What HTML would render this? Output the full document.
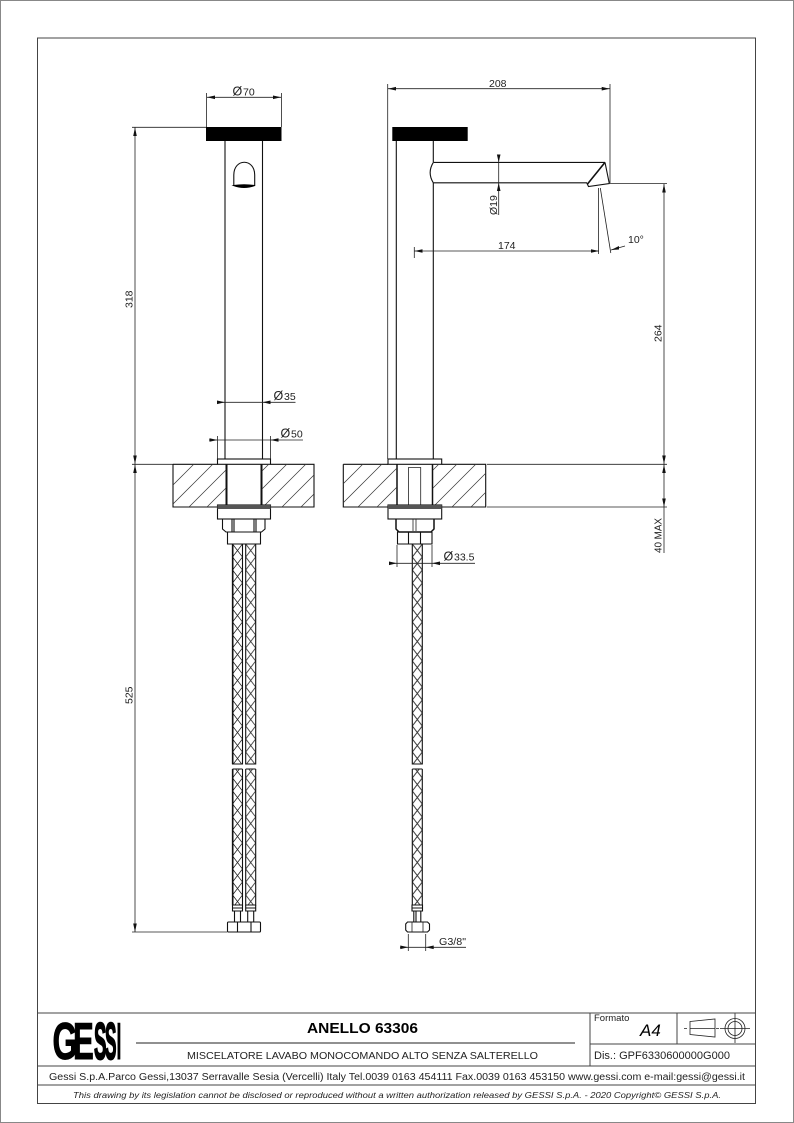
<!DOCTYPE html>
<html><head><meta charset="utf-8"><style>
html,body{margin:0;padding:0;background:#fff}
svg{display:block}
text{font-family:"Liberation Sans",sans-serif;fill:#222}
.l{fill:none;stroke:#222;stroke-width:.8}
.t{fill:none;stroke:#111;stroke-width:1.1}
.b{fill:none;stroke:#111;stroke-width:1.6}
.h{fill:none;stroke:#333;stroke-width:.7}
.a{fill:#111;stroke:none}
.d{font-size:10.5px}
.o{font-size:12.5px}
.g{font-size:52px;font-weight:700;stroke:#000;style:fill:#000}
</style></head><body>
<svg width="794" height="1123" viewBox="0 0 794 1123" xmlns="http://www.w3.org/2000/svg">
<defs>
<clipPath id="c1"><path d="M173 464H226V507H173ZM262 464H314V507H262Z"/></clipPath>
<clipPath id="c2"><path d="M343 464H397V507H343ZM433 464H486V507H433Z"/></clipPath>
<pattern id="p1" patternUnits="userSpaceOnUse" x="232.5" y="544" width="10" height="26"><path d="M0 0L10 13L0 26M10 0L0 13L10 26" fill="none" stroke="#222" stroke-width=".8"/></pattern>
<pattern id="p2" patternUnits="userSpaceOnUse" x="245.7" y="544" width="10" height="26"><path d="M0 0L10 13L0 26M10 0L0 13L10 26" fill="none" stroke="#222" stroke-width=".8"/></pattern>
<pattern id="p3" patternUnits="userSpaceOnUse" x="412.3" y="544" width="10" height="26"><path d="M0 0L10 13L0 26M10 0L0 13L10 26" fill="none" stroke="#222" stroke-width=".9"/></pattern>
</defs>
<rect x=".5" y=".5" width="793" height="1122" fill="none" stroke="#888" stroke-width="1"/>
<rect x="37.5" y="38" width="718" height="1065.5" fill="none" stroke="#444" stroke-width="1"/>

<!-- LEFT VIEW -->
<rect x="206" y="127" width="75.5" height="14" fill="#000"/>
<path class="t" d="M225 141V459M262.5 141V459"/>
<path class="t" d="M233.8 186V175C233.8 158 254.7 158 254.7 175V186"/>
<path d="M233.5 185.5Q244 189.5 254.8 185.5Q244 184 233.5 185.5Z" fill="#000" stroke="#000"/>
<path class="l" d="M206.5 93V127M281.5 93V127M207 97.3H281M132 127.3H206M132 464.3H173M132 932H227M135 127V932"/>
<path class="a" d="M207 97.3L215 95.5V99.1ZM281 97.3L273 95.5V99.1ZM135 127.5L133.2 136H136.8ZM135 464L133.2 455.5H136.8ZM135 464.6L133.2 473H136.8ZM135 932L133.2 923.5H136.8Z"/>
<text class="o" x="232.5" y="95.5">Ø</text><text class="d" x="243" y="95.5">70</text>
<text class="d" transform="translate(132.5 308) rotate(-90)">318</text>
<text class="d" transform="translate(132.5 704) rotate(-90)">525</text>
<path class="l" d="M217 402.3H295.5M209 440H303M217.5 436V459M270.5 436V459"/>
<path class="a" d="M225 402.3L217 400.5V404.1ZM262.5 402.3L270.5 400.5V404.1ZM217.5 440L209.5 438.2V441.8ZM270.5 440L278.5 438.2V441.8Z"/>
<text class="o" x="273.5" y="400">Ø</text><text class="d" x="284" y="400">35</text>
<text class="o" x="280.5" y="437.5">Ø</text><text class="d" x="291" y="437.5">50</text>
<rect x="217.5" y="459" width="53" height="5.3" class="t"/>
<path class="t" d="M173 464.3H217.5M270.5 464.3H314V507H173V464.3M226.7 464V505M261.3 464V505"/>
<path d="M226.5 464V505M261.5 464V505" stroke="#111" stroke-width="2" fill="none"/>
<g clip-path="url(#c1)" class="h"><path d="M658 0L0 658M677 0L0 677M696 0L0 696M714 0L0 714M733 0L0 733M751 0L0 751M770 0L0 770M789 0L0 789M808 0L0 808"/></g>
<rect x="217.5" y="505" width="53" height="14" class="t" fill="#fff"/>
<rect x="217.5" y="505" width="53" height="4" fill="#555"/>
<path class="t" d="M222.5 519V529L226 532H261.5L265 529V519M232 519V532M234 519V532M254 519V532M256 519V532M227.5 532V544H260.5V532Z"/>
<rect x="232.5" y="544" width="10" height="220" fill="url(#p1)"/><rect x="232.5" y="769" width="10" height="136" fill="url(#p1)"/>
<rect x="245.7" y="544" width="10" height="220" fill="url(#p2)"/><rect x="245.7" y="769" width="10" height="136" fill="url(#p2)"/>
<path class="t" d="M232.5 544V764H242.5V544M232.5 769V905H242.5V769M245.7 544V764H255.7V544M245.7 769V905H255.7V769M232.5 769H242.5M245.7 769H255.7"/>
<path d="M232.7 544V764M232.7 769V905" stroke="#111" stroke-width="1.6" fill="none"/>
<path class="t" d="M232.5 905V911H242.5V905M245.7 905V911H255.7V905M232.5 908H242.5M245.7 908H255.7M234.5 911V922M240.5 911V922M247.7 911V922M253.7 911V922"/>
<rect x="227.5" y="922" width="33" height="10" rx="1" class="t" fill="#fff"/>
<path class="t" d="M237.5 922V932M251 922V932"/>

<!-- RIGHT VIEW -->
<rect x="392.3" y="127" width="75.4" height="14" fill="#000"/>
<path class="t" d="M396.3 141V459M433.3 141V162M433.3 183V459"/>
<path class="t" d="M433.3 162.4H605M433.3 182.8H587M433.3 162.4Q427 172.6 433.3 182.8"/>
<path class="b" d="M605 162.4L587.5 184"/>
<path class="t" d="M605 162.4L609.3 183.5L588.5 186.5L586.8 183"/>
<path class="l" d="M387.7 84V459M610 84V183M388 88.7H609.7M609 183.6H667M664 183.6V553M414.3 247V258M414.5 251H599M598.5 188V254M600.3 188L610.8 253M611 250L625 246M498.7 155V215M487 464.3H667M487 507H667"/>
<path class="a" d="M388 88.7L396 86.9V90.5ZM609.7 88.7L601.7 86.9V90.5ZM664 184L662.2 192.5H665.8ZM664 464L662.2 455.5H665.8ZM664 464.6L662.2 473H665.8ZM664 507L662.2 498.5H665.8ZM414.5 251L422.5 249.2V252.8ZM599 251L591 249.2V252.8ZM498.7 162.4L496.9 154.5H500.5ZM498.7 182.8L496.9 191H500.5ZM611 250L619 246V249.5Z"/>
<text class="d" x="489" y="87">208</text>
<text class="d" x="498" y="249">174</text>
<text class="d" x="628" y="243">10°</text>
<text class="d" transform="translate(497 215) rotate(-90)">Ø19</text>
<text class="d" transform="translate(661.5 342) rotate(-90)">264</text>
<text class="d" transform="translate(661.5 553) rotate(-90)" textLength="35" lengthAdjust="spacingAndGlyphs">40 MAX</text>

<rect x="388" y="459" width="53.7" height="5.3" class="t"/>
<path class="t" d="M343.3 464.3H388M441.7 464.3H485.7V507H343.3V464.3"/>
<path d="M397 464V505M432.5 464V505" stroke="#111" stroke-width="1.5" fill="none"/>
<g clip-path="url(#c2)" class="h"><path d="M827 0L0 827M846 0L0 846M865 0L0 865M884 0L0 884M903 0L0 903M921 0L0 921M940 0L0 940M959 0L0 959M978 0L0 978"/></g>
<path class="l" d="M408.5 505V467.5H420.7V505"/>
<rect x="388" y="505" width="53.7" height="14" class="t" fill="#fff"/>
<rect x="388" y="505" width="53.7" height="4" fill="#555"/>
<path d="M396 519V529L399 532H431L434 529V519" fill="none" stroke="#111" stroke-width="1.5"/>
<path class="l" d="M413 519V531M416 519V531"/>
<path class="t" d="M397.5 532V544H432V532M408.5 532V544M420.5 532V544M397 532H432"/>
<rect x="412.3" y="544" width="10" height="220" fill="url(#p3)"/><rect x="412.3" y="769" width="10" height="136" fill="url(#p3)"/>
<path class="t" d="M412.3 544V764H422.3V544M412.3 769V905H422.3V769M412.3 769H422.3"/>
<path class="t" d="M412 905V911H422.5V905ZM412 908H422.5M413.8 911V922M420.8 911V922M416 911V922"/>
<path class="t" d="M407.5 922H427.5L429.5 924V930L427.5 932H407.5L405.7 930V924Z" fill="#fff"/>
<path class="l" d="M412 922V932M423 922V932"/>
<path class="l" d="M397 545V567M432 545V567M389 563.3H475M408.3 934V951M425.7 934V951M400 947.3H466"/>
<path class="a" d="M397 563.3L389 561.5V565.1ZM432 563.3L440 561.5V565.1ZM408.3 947.3L400.3 945.5V949.1ZM425.7 947.3L433.7 945.5V949.1Z"/>
<text class="o" x="443.5" y="560.5">Ø</text><text class="d" x="454" y="560.5">33.5</text>
<text class="d" x="439" y="945" textLength="27" lengthAdjust="spacingAndGlyphs">G3/8"</text>

<!-- TITLE BLOCK -->
<path d="M37.5 1013H755.5M37.5 1066H755.5M37.5 1085H755.5M590 1013V1066M677 1013V1044M590 1044H755.5" fill="none" stroke="#444" stroke-width="1"/>
<path d="M136 1043H575" stroke="#222" stroke-width=".9"/>
<g style="fill:#000" font-size="52" font-weight="700">
<text transform="translate(52.5 1059) scale(.62 1)" style="fill:#000" stroke="#000" stroke-width="1">G</text>
<text transform="translate(73 1059) scale(.6 1)" style="fill:#000" stroke="#000" stroke-width="1">E</text>
<text transform="translate(94 1059) scale(.36 1)" style="fill:#000" stroke="#000" stroke-width="2">S</text>
<text transform="translate(105 1059) scale(.33 1)" style="fill:#000" stroke="#000" stroke-width="2">S</text>
<text transform="translate(116.5 1059) scale(.33 1)" style="fill:#000" stroke="#000" stroke-width="1">I</text>
</g>
<text x="307" y="1033" font-size="14.5" font-weight="700" textLength="111" lengthAdjust="spacingAndGlyphs" style="fill:#000">ANELLO 63306</text>
<text x="187" y="1059" font-size="10.5" textLength="351" lengthAdjust="spacingAndGlyphs">MISCELATORE LAVABO MONOCOMANDO ALTO SENZA SALTERELLO</text>
<text x="594" y="1021" font-size="9.5">Formato</text>
<text x="640" y="1036" font-size="17" font-style="italic" style="fill:#000">A4</text>
<text x="594" y="1059" font-size="11" textLength="136" lengthAdjust="spacingAndGlyphs">Dis.: GPF6330600000G000</text>
<path class="l" d="M690 1021.5L715 1019V1037L690 1034.5ZM684 1028.5H687M690 1028.5H715M716 1028.5H719M720 1028.5H750M735 1013.5V1043"/>
<circle class="l" cx="735" cy="1028.5" r="10"/><circle class="l" cx="735" cy="1028.5" r="7"/>
<text x="49" y="1080" font-size="10" textLength="696" lengthAdjust="spacingAndGlyphs">Gessi S.p.A.Parco Gessi,13037 Serravalle Sesia (Vercelli) Italy Tel.0039 0163 454111 Fax.0039 0163 453150 www.gessi.com e-mail:gessi@gessi.it</text>
<text x="73" y="1098" font-size="8.6" font-style="italic" textLength="648" lengthAdjust="spacingAndGlyphs">This drawing by its legislation cannot be disclosed or reproduced without a written authorization released by GESSI S.p.A. - 2020 Copyright© GESSI S.p.A.</text>
</svg>
</body></html>
